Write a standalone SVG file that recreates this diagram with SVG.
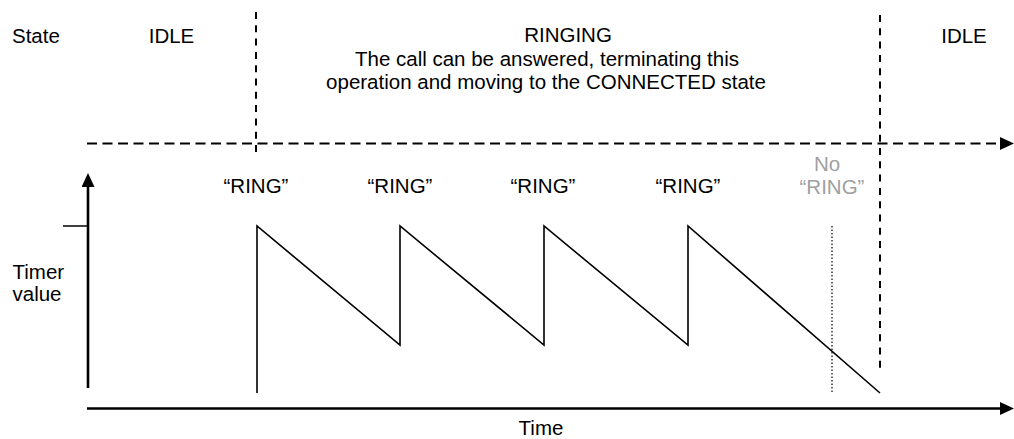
<svg xmlns="http://www.w3.org/2000/svg" width="1014" height="439" viewBox="0 0 1014 439">
  <style>
    text { font-family: "Liberation Sans", Arial, sans-serif; font-size: 20.5px; fill: #000; }
    .c { text-anchor: middle; }
    .grey { fill: #a0a0a0; }
    .axis { stroke: #000; stroke-width: 2.6; fill: none; }
    .dashH { stroke: #000; stroke-width: 2.2; stroke-dasharray: 10 5.5; fill: none; }
    .dashV { stroke: #000; stroke-width: 2; stroke-dasharray: 7 6.3; fill: none; }
    .saw { stroke: #000; stroke-width: 1.6; fill: none; stroke-linejoin: miter; }
    .dot { stroke: #000; stroke-width: 1.2; stroke-dasharray: 1.5 2; fill: none; }
    .tick { stroke: #000; stroke-width: 1.5; }
  </style>
  <defs>
    <marker id="arrow" viewBox="0 0 14 13" refX="4" refY="6.5" markerWidth="14" markerHeight="13" markerUnits="userSpaceOnUse" orient="auto">
      <path d="M0,0 L14,6.5 L0,13 z" fill="#000"/>
    </marker>
  </defs>

  <g id="labels">
    <text x="12" y="43">State</text>
    <text class="c" x="171.5" y="43">IDLE</text>
    <text class="c" x="568" y="42">RINGING</text>
    <text class="c" x="547" y="66">The call can be answered, terminating this</text>
    <text class="c" x="546" y="89">operation and moving to the CONNECTED state</text>
    <text class="c" x="964" y="43">IDLE</text>
    <text x="12.5" y="279">Timer</text>
    <text x="12.5" y="301">value</text>
    <text class="c" x="541" y="435">Time</text>
  </g>

  <g id="ring-labels">
    <text class="c" x="256" y="193">“RING”</text>
    <text class="c" x="400" y="193">“RING”</text>
    <text class="c" x="543" y="193">“RING”</text>
    <text class="c" x="688" y="193">“RING”</text>
    <text class="c grey" x="827" y="171">No</text>
    <text class="c grey" x="832" y="194">“RING”</text>
  </g>

  <g id="connectors">
    <line class="dashV" x1="256" y1="12" x2="256" y2="158"/>
    <line class="dashV" x1="880" y1="15" x2="880" y2="372"/>
    <line class="dashH" x1="87" y1="143.5" x2="1004" y2="143.5" marker-end="url(#arrow)"/>
    <line class="axis" x1="88" y1="388" x2="88" y2="183" marker-end="url(#arrow)"/>
    <line class="axis" x1="87" y1="408.5" x2="1004" y2="408.5" marker-end="url(#arrow)"/>
    <line class="tick" x1="63" y1="226" x2="88" y2="226"/>
    <path class="saw" d="M257,393 V226 L400,345 V226 L544,345 V226 L688,345 V226 L880,393"/>
    <line class="dot" x1="832" y1="226" x2="832" y2="393"/>
  </g>
</svg>
